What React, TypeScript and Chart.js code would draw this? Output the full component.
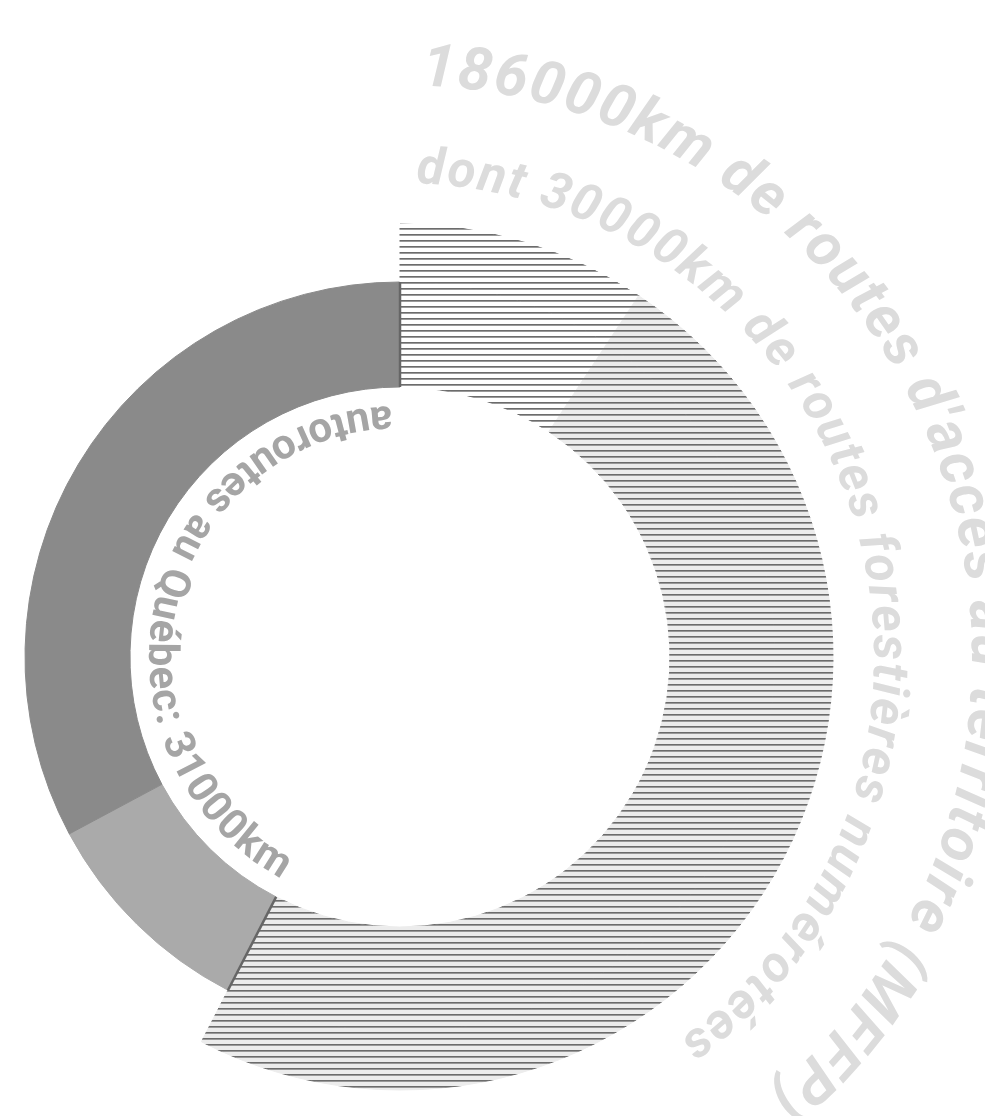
import React, { useEffect, useRef } from "react";
import { Chart, registerables } from "chart.js";

Chart.register(...registerables);

// ---- Data (km) ----
const categories = [
  "Routes forestières numérotées",
  "Autres routes d'accès au territoire (MFFP)",
  "Réseau routier du MTQ",
  "Routes municipales",
];
const innerRingValues = [30000, 156000, 31000, 106000];
const outerRingValues = [30000, 156000, 31000, 106000];
const curvedLabels = [
  "186000km de routes d'accès au territoire (MFFP)",
  "dont 30000km de routes forestières numérotées",
  "autoroutes au Québec: 31000km",
];

function makeHatch(ctx: CanvasRenderingContext2D, bg: string) {
  const c = document.createElement("canvas");
  c.width = 8;
  c.height = 6;
  const p = c.getContext("2d")!;
  p.fillStyle = bg;
  p.fillRect(0, 0, 8, 6);
  p.fillStyle = "#6c6c6c";
  p.fillRect(0, 0, 8, 1);
  p.fillStyle = "#999999";
  p.fillRect(0, 1, 8, 1);
  return ctx.createPattern(c, "repeat")!;
}

function drawArcText(
  ctx: CanvasRenderingContext2D,
  text: string,
  cx: number,
  cy: number,
  r: number,
  startDeg: number,
  endDeg: number,
  font: string,
  color: string,
  clockwise: boolean
) {
  ctx.save();
  ctx.font = font;
  ctx.fillStyle = color;
  ctx.textAlign = "center";
  ctx.textBaseline = "alphabetic";
  const chars = Array.from(text);
  const widths = chars.map((ch) => ctx.measureText(ch).width);
  const total = widths.reduce((a, b) => a + b, 0);
  const arc = (Math.abs(endDeg - startDeg) * Math.PI * r) / 180;
  const extra = (arc - total) / chars.length;
  let pos = extra / 2;
  const start = (startDeg * Math.PI) / 180;
  chars.forEach((ch, i) => {
    const mid = pos + widths[i] / 2;
    const ang = start + ((clockwise ? 1 : -1) * mid) / r;
    const x = cx + r * Math.sin(ang);
    const y = cy - r * Math.cos(ang);
    ctx.save();
    ctx.translate(x, y);
    ctx.rotate(clockwise ? ang : ang + Math.PI);
    ctx.fillText(ch, 0, 0);
    ctx.restore();
    pos += widths[i] + extra;
  });
  ctx.restore();
}

const boundaryPlugin = {
  id: "boundaryLines",
  afterDatasetsDraw(chart: any) {
    const meta = chart.getDatasetMeta(1);
    if (!meta || !meta.data.length) return;
    const ctx = chart.ctx as CanvasRenderingContext2D;
    const first = meta.data[0].getProps(["x", "y", "startAngle", "innerRadius", "outerRadius"], true);
    const second = meta.data[1].getProps(["endAngle"], true);
    ctx.save();
    ctx.strokeStyle = "#666666";
    ctx.lineWidth = 2.5;
    [first.startAngle, second.endAngle].forEach((a: number) => {
      ctx.beginPath();
      ctx.moveTo(first.x + first.innerRadius * Math.cos(a), first.y + first.innerRadius * Math.sin(a));
      ctx.lineTo(first.x + first.outerRadius * Math.cos(a), first.y + first.outerRadius * Math.sin(a));
      ctx.stroke();
    });
    ctx.restore();
  },
};

const arcTextPlugin = {
  id: "arcText",
  afterDatasetsDraw(chart: any) {
    const meta = chart.getDatasetMeta(1);
    if (!meta || !meta.data.length) return;
    const { x, y } = meta.data[0].getProps(["x", "y"], true);
    const ctx = chart.ctx as CanvasRenderingContext2D;
    drawArcText(ctx, curvedLabels[0], x, y, 572, 2.0, 140, "italic bold 60px Roboto", "#dcdcdc", true);
    drawArcText(ctx, curvedLabels[1], x, y, 474, 1.8, 144, "italic bold 51px Roboto", "#dcdcdc", true);
    drawArcText(ctx, curvedLabels[2], x, y, 251, -1.8, -152, "bold 42px Roboto", "#a5a5a5", false);
  },
};

export default function App() {
  const ref = useRef<HTMLCanvasElement | null>(null);
  useEffect(() => {
    const canvas = ref.current!;
    const ctx = canvas.getContext("2d")!;
    const hatchWhite = makeHatch(ctx, "#ffffff");
    const hatchGray = makeHatch(ctx, "#ececec");
    const chart = new Chart(canvas, {
      type: "doughnut",
      data: {
        labels: categories,
        datasets: [
          {
            data: outerRingValues,
            backgroundColor: [hatchWhite, hatchGray, "rgba(0,0,0,0)", "rgba(0,0,0,0)"],
            borderColor: [hatchWhite, hatchGray, "rgba(0,0,0,0)", "rgba(0,0,0,0)"],
            borderWidth: [1, 1, 0, 0],
            weight: 58,
          } as any,
          {
            data: innerRingValues,
            backgroundColor: [hatchWhite, hatchGray, "#aaaaaa", "#8a8a8a"],
            borderColor: [hatchWhite, hatchGray, "#aaaaaa", "#8a8a8a"],
            borderWidth: 1,
            weight: 105,
          } as any,
        ],
      },
      options: {
        responsive: false,
        animation: false,
        radius: 433,
        cutout: "62.36%",
        events: [],
        layout: { padding: { left: 7, top: 224, right: 152, bottom: 26 } },
        plugins: { legend: { display: false }, tooltip: { enabled: false } },
      } as any,
      plugins: [boundaryPlugin, arcTextPlugin],
    });
    return () => chart.destroy();
  }, []);
  return (
    <div style={{ position: "absolute", left: 0, top: 0, width: 985, height: 1116, overflow: "hidden", background: "#ffffff" }}>
      <canvas
        ref={ref}
        width={1025}
        height={1116}
        style={{ position: "absolute", left: -40, top: 0, width: 1025, height: 1116, display: "block" }}
      />
    </div>
  );
}
